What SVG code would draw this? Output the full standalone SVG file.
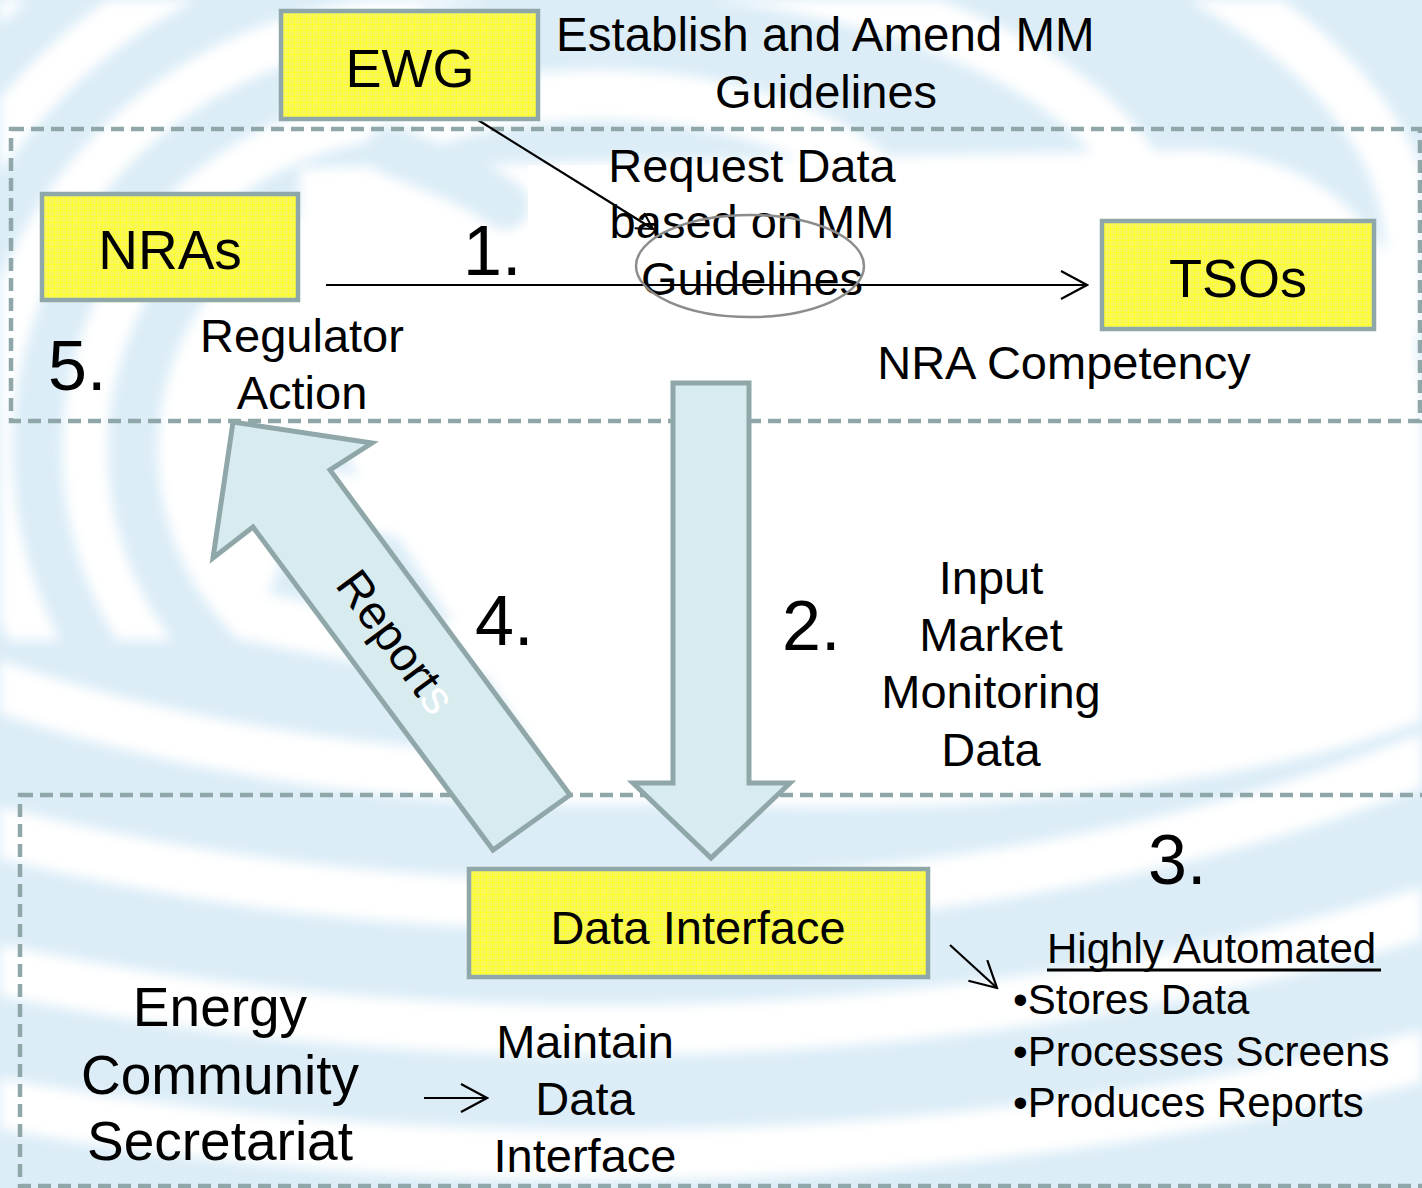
<svg xmlns="http://www.w3.org/2000/svg" width="1422" height="1188" viewBox="0 0 1422 1188">
<defs>
<style>
.t{font-family:"Liberation Sans",Arial,sans-serif;fill:#000}
.m{font-size:47px}
.n{font-size:70px}
.box{fill:url(#yp);stroke:#8fa7a8;stroke-width:4.5}
.dash{fill:none;stroke:#8fa7a8;stroke-width:4.5;stroke-dasharray:13 7}
.big{fill:#d8ebee;stroke:#8fa7a8;stroke-width:5;stroke-linejoin:miter}
.ln{fill:none;stroke:#000;stroke-width:2.2}
.ring{fill:none;stroke:#fff;stroke-width:50}
.cr{fill:none;stroke:#fff;stroke-width:45}
</style>
<pattern id="yp" width="6" height="6" patternUnits="userSpaceOnUse">
<rect width="6" height="6" fill="#f7f75c"/>
<path d="M0 0.5H6M0.5 0V6" stroke="#ffff2a" stroke-width="1"/>
</pattern>
<filter id="soft" x="-10%" y="-10%" width="120%" height="120%"><feGaussianBlur stdDeviation="6"/></filter>
<clipPath id="clipL"><path d="M0,0 H420 V140 L330,440 L250,640 L0,640 Z"/></clipPath>
<clipPath id="clipR"><path d="M420,0 H1422 V1188 H0 V640 L250,640 L330,440 L420,140 Z"/></clipPath>
<marker id="chev" viewBox="0 0 20 20" refX="18" refY="10" markerWidth="20" markerHeight="20" markerUnits="userSpaceOnUse" orient="auto">
<path d="M2 1 L18 10 L2 19" fill="none" stroke="#000" stroke-width="2"/>
</marker>
<marker id="chevL" viewBox="0 0 30 30" refX="28" refY="15" markerWidth="30" markerHeight="30" markerUnits="userSpaceOnUse" orient="auto">
<path d="M2 1 L28 15 L2 29" fill="none" stroke="#000" stroke-width="2.2"/>
</marker>
</defs>

<g id="background">
<rect width="1422" height="1188" fill="#dcedf7"/>
<g filter="url(#soft)">
<g clip-path="url(#clipR)">
<ellipse class="ring" cx="600" cy="250" rx="310" ry="155"/>
<ellipse class="ring" cx="600" cy="250" rx="560" ry="280"/>
<ellipse class="ring" cx="600" cy="250" rx="810" ry="405"/>
<ellipse class="ring" cx="600" cy="250" rx="1060" ry="530"/>
<ellipse class="ring" cx="600" cy="250" rx="1310" ry="655"/>
<ellipse class="ring" cx="600" cy="250" rx="1560" ry="780"/>
<ellipse class="ring" cx="600" cy="250" rx="1810" ry="905"/>
</g>
<g clip-path="url(#clipL)">
<circle cx="420" cy="450" r="262" fill="#fff"/>
<circle class="cr" cx="420" cy="450" r="335"/>
<circle class="cr" cx="420" cy="450" r="430"/>
<circle class="cr" cx="420" cy="450" r="525"/>
<circle class="cr" cx="420" cy="450" r="620"/>
</g>
<path d="M300,168 L1200,150 C1350,160 1422,260 1422,420 L1422,720 C1300,770 1100,795 950,805 C800,810 650,805 560,790 L330,430 L300,420 Z" fill="#fff"/>
<path d="M390,150 C440,170 480,185 505,205" fill="none" stroke="#dcedf7" stroke-width="50" stroke-linecap="round"/>
</g>
<rect x="528" y="165" width="600" height="140" fill="#fff"/>
</g>

<g id="groups">
<rect class="dash" x="11" y="129" width="1409" height="292"/>
<rect class="dash" x="20" y="795" width="1420" height="391"/>
</g>

<g id="connectors">
<line class="ln" x1="326" y1="285" x2="1087" y2="285" marker-end="url(#chevL)"/>
<line x1="445" y1="100" x2="478" y2="119" stroke="#b8b800" stroke-width="1.2" stroke-dasharray="2 1"/>
<line class="ln" x1="478" y1="120" x2="653" y2="229" marker-end="url(#chev)"/>
<line class="ln" x1="950" y1="945" x2="997" y2="988" marker-end="url(#chevL)"/>
<line class="ln" x1="424" y1="1098" x2="487" y2="1098" marker-end="url(#chevL)"/>
<polygon id="arrow-input" class="big" points="673,383 749,383 749,783 790,783 711,858 633,783 673,783"/>
<polygon id="arrow-reports" class="big" points="233,422 372,443 330,470 570,795 493,850 253,527 213,558"/>
<text class="t m" transform="translate(396,642) rotate(53.5)" text-anchor="middle" y="16">Report<tspan fill="#fff">s</tspan></text>
</g>

<g id="node-ewg">
<rect class="box" x="281" y="11" width="257" height="108"/>
<text class="t" x="410" y="87" font-size="54" text-anchor="middle">EWG</text>
</g>
<g id="node-nras">
<rect class="box" x="42" y="194" width="256" height="106"/>
<text class="t" x="170" y="269" font-size="55" text-anchor="middle">NRAs</text>
</g>
<g id="node-tsos">
<rect class="box" x="1102" y="221" width="272" height="108"/>
<text class="t" x="1238" y="297" font-size="54" text-anchor="middle">TSOs</text>
</g>
<g id="node-data-interface">
<rect class="box" x="469" y="869" width="459" height="108"/>
<text class="t m" x="698" y="944" text-anchor="middle">Data Interface</text>
</g>

<g id="labels">
<text class="t" x="556" y="51" font-size="47.5">Establish and Amend MM</text>
<text class="t m" x="826" y="108" text-anchor="middle">Guidelines</text>
<g text-anchor="middle">
<text class="t m" x="752" y="182">Request Data</text>
<text class="t m" x="752" y="238">based on MM</text>
<text class="t m" x="752" y="295">Guidelines</text>
</g>
<ellipse cx="750" cy="266" rx="114" ry="51" fill="none" stroke="#8c8c8c" stroke-width="2.5"/>
<text class="t n" x="463" y="275">1.</text>
<text class="t n" x="48" y="390">5.</text>
<text class="t m" x="302" y="352" text-anchor="middle">Regulator</text>
<text class="t m" x="302" y="409" text-anchor="middle">Action</text>
<text class="t m" x="1064" y="379" text-anchor="middle">NRA Competency</text>
<text class="t n" x="475" y="645">4.</text>
<text class="t n" x="782" y="650">2.</text>
<g text-anchor="middle">
<text class="t m" x="991" y="594">Input</text>
<text class="t m" x="991" y="651">Market</text>
<text class="t m" x="991" y="708">Monitoring</text>
<text class="t m" x="991" y="766">Data</text>
</g>
<text class="t n" x="1148" y="884">3.</text>
<text class="t" x="1047" y="963" font-size="42">Highly Automated</text>
<line x1="1047" y1="970" x2="1381" y2="970" stroke="#000" stroke-width="3"/>
<text class="t" x="1013" y="1014" font-size="42">•Stores Data</text>
<text class="t" x="1013" y="1066" font-size="42">•Processes Screens</text>
<text class="t" x="1013" y="1117" font-size="42">•Produces Reports</text>
<g text-anchor="middle">
<text class="t" x="220" y="1026" font-size="55">Energy</text>
<text class="t" x="220" y="1094" font-size="55">Community</text>
<text class="t" x="220" y="1160" font-size="55">Secretariat</text>
<text class="t m" x="585" y="1058">Maintain</text>
<text class="t m" x="585" y="1115">Data</text>
<text class="t m" x="585" y="1172">Interface</text>
</g>
</g>
</svg>
